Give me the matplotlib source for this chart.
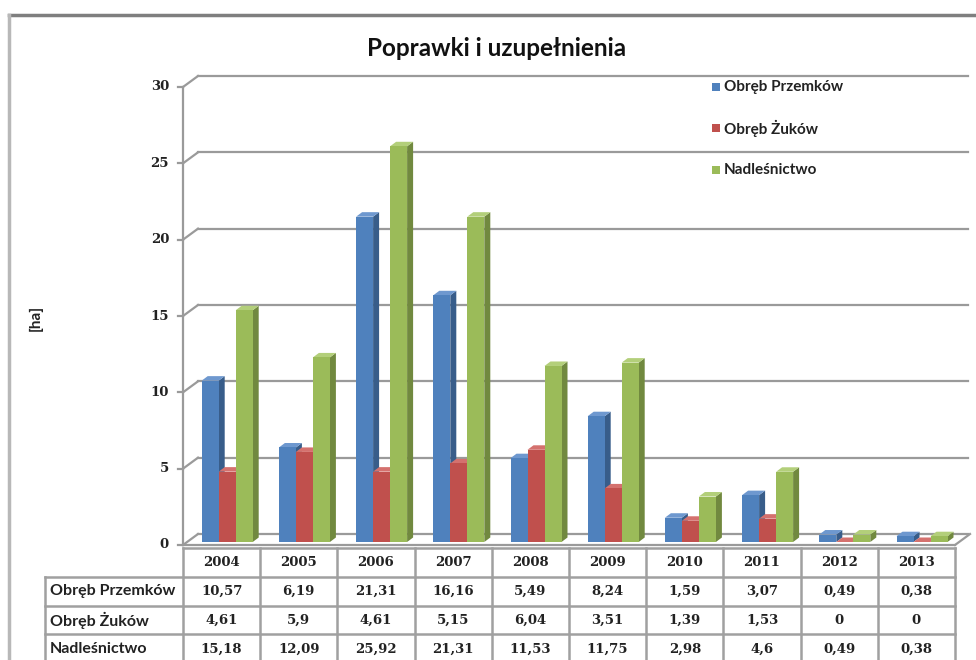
import matplotlib
matplotlib.use("Agg")
import matplotlib.pyplot as plt
from matplotlib.patches import Polygon, Rectangle
from matplotlib.lines import Line2D

# ---------------- data ----------------
years = ["2004", "2005", "2006", "2007", "2008", "2009", "2010", "2011", "2012", "2013"]
przemkow = [10.57, 6.19, 21.31, 16.16, 5.49, 8.24, 1.59, 3.07, 0.49, 0.38]
zukow = [4.61, 5.9, 4.61, 5.15, 6.04, 3.51, 1.39, 1.53, 0, 0]
nadlesnictwo = [15.18, 12.09, 25.92, 21.31, 11.53, 11.75, 2.98, 4.6, 0.49, 0.38]
series_names = ["Obręb Przemków", "Obręb Żuków", "Nadleśnictwo"]
title = "Poprawki i uzupełnienia"
ylabel = "[ha]"
yticks = [0, 5, 10, 15, 20, 25, 30]

series = [przemkow, zukow, nadlesnictwo]
front_cols = ["#4F81BD", "#C0504D", "#9BBB59"]
side_cols = ["#385D8A", "#8C3836", "#71893F"]
top_cols = ["#6E98CF", "#D4716E", "#B3CF7A"]

FW, FH = 976, 660
fig = plt.figure(figsize=(FW / 100, FH / 100), dpi=100)
fig.patch.set_facecolor("white")

def fx(px):
    return px / FW

def fy(py):
    return 1 - py / FH

SANS = ["Lato", "DejaVu Sans"]
SERIF = ["DejaVu Serif", "Liberation Serif"]

# outer frame (cropped chart border)
fig.add_artist(Line2D([fx(9), fx(976)], [fy(15), fy(15)], color="#7f7f7f", lw=2.5))
fig.add_artist(Line2D([fx(9), fx(9)], [fy(15), fy(660)], color="#b8b8b8", lw=2.5))

# ---------------- main axes ----------------
L, R, B, T = 183, 955, 545, 87
ax = fig.add_axes([fx(L), fy(B), fx(R - L), (B - T) / FH])
n = len(years)
ax.set_xlim(0, n)
ax.set_ylim(0, 30)
ax.axis("off")

ux = (R - L) / n      # pixels per category
uy = (B - T) / 30.0   # pixels per unit

def dxp(p):
    return p / ux

def dyp(p):
    return p / uy

grid_col = "#9a9a9a"
# back wall offset
bx, by = dxp(15), dyp(11)
xend = dxp(968 - L)
for v in yticks:
    ax.plot([0, bx], [v, v + by], color=grid_col, lw=1.6, clip_on=False, zorder=1)
    ax.plot([bx, xend], [v + by, v + by], color=grid_col, lw=1.6, clip_on=False, zorder=1)
    ax.plot([-dxp(5), 0], [v, v], color=grid_col, lw=1.6, clip_on=False, zorder=1)
    ax.text(-dxp(14), v, str(v), ha="right", va="center", fontsize=9.5,
            fontweight="bold", family=SERIF, color="#222222")
# front vertical axis
ax.plot([0, 0], [0, 30], color=grid_col, lw=1.6, clip_on=False, zorder=1)
# floor
ax.plot([0, n], [0, 0], color=grid_col, lw=1.6, clip_on=False, zorder=1)
ax.plot([n, n + bx], [0, by], color=grid_col, lw=1.6, clip_on=False, zorder=1)

# ---------------- pseudo-3D bars ----------------
bw = dxp(17)
off_x, off_y = dxp(5.6), dyp(3)
sd_x, sd_y = dxp(6), dyp(4.5)
for i in range(n):
    start = i + 0.5 - 1.5 * bw + off_x
    for s, vals in enumerate(series):
        x0 = start + s * bw
        x1 = x0 + bw
        y0 = off_y
        y1 = off_y + vals[i]
        side = Polygon([[x1, y0], [x1 + sd_x, y0 + sd_y], [x1 + sd_x, y1 + sd_y], [x1, y1]],
                       closed=True, facecolor=side_cols[s], edgecolor="none", zorder=3, clip_on=False)
        top = Polygon([[x0, y1], [x0 + sd_x, y1 + sd_y], [x1 + sd_x, y1 + sd_y], [x1, y1]],
                      closed=True, facecolor=top_cols[s], edgecolor="none", zorder=3, clip_on=False)
        front = Rectangle((x0, y0), bw, vals[i], facecolor=front_cols[s],
                          edgecolor="none", zorder=3, clip_on=False)
        ax.add_patch(side)
        ax.add_patch(top)
        ax.add_patch(front)

# ---------------- title, y label, legend ----------------
fig.text(fx(497), fy(49), title, ha="center", va="center", fontsize=17.5,
         fontweight="bold", family=SANS, color="#111111")
fig.text(fx(36), fy(318), ylabel, ha="center", va="center", rotation=90,
         fontsize=11, fontweight="bold", family=SANS, color="#222222")
leg_y = [87, 128, 170]
for s, name in enumerate(series_names):
    fig.add_artist(Rectangle((fx(712), fy(leg_y[s] + 4)), 8 / FW, 8 / FH,
                             facecolor=front_cols[s], edgecolor="none"))
    fig.text(fx(724), fy(leg_y[s]), name, ha="left", va="center", fontsize=11,
             fontweight="bold", family=SANS, color="#222222")

# ---------------- data table ----------------
tb_top = 548
rh = 28.8
tax = fig.add_axes([fx(L), fy(tb_top + 4 * rh), fx(R - L), 4 * rh / FH])
tax.set_xlim(0, n)
tax.set_ylim(4, 0)
tax.axis("off")
lab_x = -(L - 45) / ux
tcol = "#a0a0a0"
tlw = 1.8
# horizontal lines
tax.plot([0, n], [0, 0], color=tcol, lw=tlw, clip_on=False)
for r in range(1, 5):
    tax.plot([lab_x, n], [r, r], color=tcol, lw=tlw, clip_on=False)
# vertical lines
for c in range(n + 1):
    tax.plot([c, c], [0, 4], color=tcol, lw=tlw, clip_on=False)
tax.plot([lab_x, lab_x], [1, 4], color=tcol, lw=tlw, clip_on=False)

def fmt(v):
    return ("%g" % v).replace(".", ",")

for i, yr in enumerate(years):
    tax.text(i + 0.5, 0.5, yr, ha="center", va="center", fontsize=9.5,
             fontweight="bold", family=SERIF, color="#222222", clip_on=False)
for s, vals in enumerate(series):
    tax.text(lab_x + dxp(5), s + 1.5, series_names[s], ha="left", va="center",
             fontsize=11.5, fontweight="bold", family=SANS, color="#222222", clip_on=False)
    for i, v in enumerate(vals):
        tax.text(i + 0.5, s + 1.5, fmt(v), ha="center", va="center", fontsize=9.5,
                 fontweight="bold", family=SERIF, color="#222222", clip_on=False)

fig.savefig("out.png", dpi=100, facecolor="white")
